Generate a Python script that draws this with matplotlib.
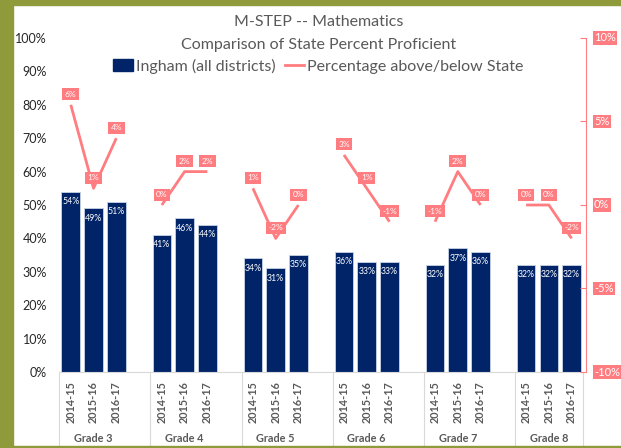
import numpy as np
import matplotlib
matplotlib.use("Agg")
import matplotlib.pyplot as plt
from matplotlib.patches import Rectangle

plt.rcParams['font.family'] = ['Lato', 'DejaVu Sans']

grades = ['Grade 3', 'Grade 4', 'Grade 5', 'Grade 6', 'Grade 7', 'Grade 8']
years = ['2014-15', '2015-16', '2016-17']
# percent proficient, Ingham (all districts)
proficient = [
    [54, 49, 51],
    [41, 46, 44],
    [34, 31, 35],
    [36, 33, 33],
    [32, 37, 36],
    [32, 32, 32],
]
# percentage above/below state
diff_state = [
    [6, 1, 4],
    [0, 2, 2],
    [1, -2, 0],
    [3, 1, -1],
    [-1, 2, 0],
    [0, 0, -2],
]
right_ticks = [-10, -5, 0, 5, 10]

NAVY = '#012468'
PINK = '#FF7C80'
GRAY = '#595959'
OLIVE = '#8F9A3B'

fig = plt.figure(figsize=(6.21, 4.48), dpi=100)

# olive frame (left, top, bottom)
fig.patches.append(Rectangle((0, 0), 12.5 / 621, 1, transform=fig.transFigure,
                             color=OLIVE, zorder=0))
fig.patches.append(Rectangle((0, 1 - 5 / 448), 1, 5 / 448, transform=fig.transFigure,
                             color=OLIVE, zorder=0))
fig.patches.append(Rectangle((0, 0), 1, 2.5 / 448, transform=fig.transFigure,
                             color=OLIVE, zorder=0))

left, right = 59.4 / 621, 583 / 621
bottom, top = (448 - 372) / 448, (448 - 38) / 448
ax = fig.add_axes([left, bottom, right - left, top - bottom])

xs = []
for g in range(len(grades)):
    xs.append([g * 4 + j for j in range(3)])

for g in range(len(grades)):
    ax.bar(xs[g], proficient[g], width=0.82, color=NAVY,
           edgecolor='#C9D3E6', linewidth=0.6, zorder=2)
    for x, v in zip(xs[g], proficient[g]):
        ax.annotate(f'{v}%', (x, v), xytext=(0, -7), textcoords='offset points',
                    ha='center', va='center', color='white', fontsize=6.3, zorder=3)

ax.set_xlim(-0.5, 22.5)
ax.set_ylim(0, 100)
ax.set_yticks(range(0, 101, 10))
ax.set_yticklabels([f'{t}%' for t in range(0, 101, 10)], fontsize=9, color='#262626')
ax.tick_params(axis='y', length=0, pad=9)
ax.set_xticks([])
for s in ['top', 'left', 'right']:
    ax.spines[s].set_visible(False)
ax.spines['bottom'].set_color('#D9D9D9')

# category axis: years and grade groups
sep_depth = -(445 - 372) / 334
for g in range(len(grades)):
    for x, yr in zip(xs[g], years):
        ax.text(x, -0.028, yr, transform=ax.get_xaxis_transform(), rotation=90,
                ha='center', va='top', fontsize=7.8, fontweight='bold', color=GRAY)
    ax.text(g * 4 + 1, -0.198, grades[g],
            transform=ax.get_xaxis_transform(), ha='center', va='center',
            fontsize=7.8, fontweight='bold', color=GRAY)
for b in [-0.5, 3.5, 7.5, 11.5, 15.5, 19.5, 22.5]:
    ax.plot([b, b], [0, sep_depth], transform=ax.get_xaxis_transform(),
            color='#D9D9D9', lw=0.8, clip_on=False)

# secondary axis: difference from state
ax2 = ax.twinx()
ax2.set_ylim(-10, 10)
ax2.set_yticks(right_ticks)
ax2.set_yticklabels([])
ax2.tick_params(axis='y', direction='in', length=4, color=PINK)
for s in ['top', 'left', 'bottom']:
    ax2.spines[s].set_visible(False)
ax2.spines['right'].set_color(PINK)
ax2.spines['right'].set_position(('outward', 2))
for t in right_ticks:
    ax2.annotate(f'{t}%', (1, t), xycoords=ax2.get_yaxis_transform(),
                 xytext=(8, 0), textcoords='offset points', ha='left', va='center',
                 color='white', fontsize=8, annotation_clip=False,
                 bbox=dict(boxstyle='square,pad=0.12', fc=PINK, ec='none'))

for g in range(len(grades)):
    ax2.plot(xs[g], diff_state[g], color=PINK, lw=2, zorder=3,
             solid_capstyle='butt')
    for x, v in zip(xs[g], diff_state[g]):
        ax2.annotate(f'{v}%', (x, v), xytext=(0, 7.5), textcoords='offset points',
                     ha='center', va='center', color='white', fontsize=6,
                     bbox=dict(boxstyle='square,pad=0.3', fc=PINK, ec='none'),
                     zorder=4)

# titles and legend
fig.text(0.513, 1 - 22 / 448, 'M-STEP -- Mathematics', ha='center', va='center',
         fontsize=11.5, color=GRAY)
fig.text(0.513, 1 - 45 / 448, 'Comparison of State Percent Proficient',
         ha='center', va='center', fontsize=11.5, color=GRAY)
h_bar = Rectangle((0, 0), 1, 1, color=NAVY)
h_line = plt.Line2D([], [], color=PINK, lw=2)
fig.legend([h_bar, h_line], ['Ingham (all districts)', 'Percentage above/below State'],
           loc='center', bbox_to_anchor=(0.513, 1 - 66 / 448), ncol=2, frameon=False,
           fontsize=11.5, labelcolor=GRAY, handlelength=1.2, handletextpad=0.2,
           columnspacing=0.6, borderpad=0)

fig.savefig('out.png', dpi=100)
